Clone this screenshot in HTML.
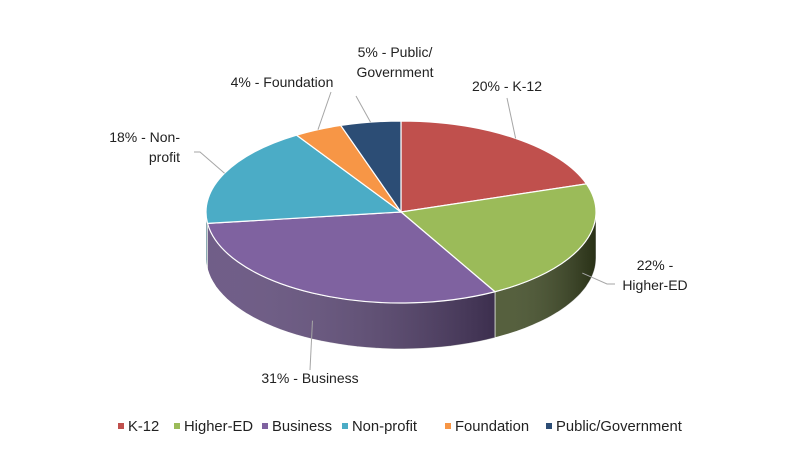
<!DOCTYPE html>
<html><head><meta charset="utf-8"><style>
body{margin:0;background:#fff;}
svg{display:block;font-family:"Liberation Sans",sans-serif;}
</style></head><body>
<svg id="chart" width="800" height="462" viewBox="0 0 800 462">
<defs>
<linearGradient id="shade" x1="0" x2="1" y1="0" y2="0">
<stop offset="0" stop-color="#fff" stop-opacity="0.12"/>
<stop offset="1" stop-color="#000" stop-opacity="0.35"/>
</linearGradient>
</defs>
<g id="sides"></g><g id="tops"></g><g id="labels"></g><g id="legend"></g>
</svg>
<script>
const categories = ["K-12","Higher-ED","Business","Non-profit","Foundation","Public/Government"];
const values = [20,22,31,18,4,5];
const labelText = [["20% - K-12"],["22% -","Higher-ED"],["31% - Business"],["18% - Non-","profit"],["4% - Foundation"],["5% - Public/","Government"]];
const colors = ["#c0504d","#9bbb59","#7f62a0","#4bacc6","#f79646","#2c4d75"];
const sideColors = ["#7a2f2d","#3e4a22","#5d4878","#2f7284","#a35e25","#1a2f48"];
const NS="http://www.w3.org/2000/svg";
const cx=401, cy=212, rx=195, ry=91, depth=46;
function pt(t,dy){return [cx+rx*Math.sin(t), cy-ry*Math.cos(t)+(dy||0)];}
function mk(tag,attrs,parent){const e=document.createElementNS(NS,tag);for(const k in attrs)e.setAttribute(k,attrs[k]);parent.appendChild(e);return e;}
const total=values.reduce((a,b)=>a+b,0);
const sides=document.getElementById('sides'),tops=document.getElementById('tops'),labels=document.getElementById('labels'),legend=document.getElementById('legend');
let a=0;
const angles=[];
values.forEach((v,i)=>{const a1=a+v/total*2*Math.PI;angles.push([a,a1]);a=a1;});
angles.forEach(([a0,a1],i)=>{
  const s=Math.max(a0,Math.PI/2), e=Math.min(a1,3*Math.PI/2);
  if(e<=s) return;
  let d="";const n=40;
  for(let k=0;k<=n;k++){const p=pt(s+(e-s)*k/n);d+=(k?"L":"M")+p[0].toFixed(1)+","+p[1].toFixed(1);}
  for(let k=n;k>=0;k--){const p=pt(s+(e-s)*k/n,depth);d+="L"+p[0].toFixed(1)+","+p[1].toFixed(1);}
  d+="Z";
  const el=mk('path',{d:d,fill:sideColors[i],stroke:"#fff","stroke-width":"0.8"},sides);
  
  
  const sh=mk('path',{d:d,fill:"url(#shade)"},sides);
  
  
});
angles.forEach(([a0,a1],i)=>{
  const p0=pt(a0),p1=pt(a1),large=(a1-a0)>Math.PI?1:0;
  const d=`M${cx},${cy}L${p0[0]},${p0[1]}A${rx},${ry} 0 ${large} 1 ${p1[0]},${p1[1]}Z`;
  const el=mk('path',{d:d,fill:colors[i],stroke:"#fff","stroke-width":"1.2","stroke-linejoin":"round"},tops);
  
  
});
const labelPos=[[507,91,"middle"],[655,270,"middle"],[310,383,"middle"],[180,142,"end"],[282,87,"middle"],[395,77,"middle"]];
const leaderEnd=[[507,98],[607,284],[310,370],[200,152],[331,92],[356,96]];
angles.forEach(([a0,a1],i)=>{
  const m=(a0+a1)/2;
  const front=(m>Math.PI/2&&m<3*Math.PI/2);
  const start=front?pt(m,depth*0.6):pt(m);
  const le=leaderEnd[i];
  let d;
  if(i===1) d=`M${start[0]},${start[1]}L${le[0]},${le[1]}L${le[0]+8},${le[1]}`;
  else if(i===3) d=`M${start[0]},${start[1]}L${le[0]},${le[1]}L${le[0]-6},${le[1]}`;
  else d=`M${start[0]},${start[1]}L${le[0]},${le[1]}`;
  const ln=mk('path',{d:d,fill:"none",stroke:"#a6a6a6","stroke-width":"1"},labels);
  
  
  const [lx,ly,anc]=labelPos[i];
  labelText[i].forEach((t,j)=>{
    const tx=mk('text',{x:lx,y:ly+j*20-(labelText[i].length-1)*20+(i===1||i===3?20:0),"text-anchor":anc,"font-size":"14",fill:"#222"},labels);
    tx.textContent=t;
    
    
  });
});
const legX=[121,177,265,345,448,549];
categories.forEach((c,i)=>{
  const g=mk('g',{},legend);
  
  
  mk('rect',{x:legX[i]-3,y:423,width:6,height:6,fill:colors[i]},g);
  const t=mk('text',{x:legX[i]+7,y:431,"font-size":"14.8",fill:"#222"},g);
  t.textContent=c;
});
</script>
</body></html>
